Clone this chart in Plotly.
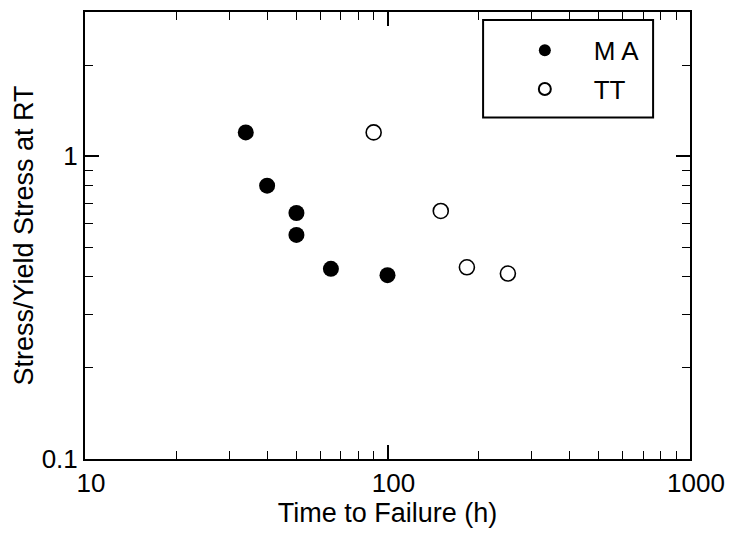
import plotly.graph_objects as go

ma_time = [34, 40, 50, 50, 65, 100]
ma_stress = [1.2, 0.8, 0.65, 0.55, 0.425, 0.405]
tt_time = [90, 150, 183, 250]
tt_stress = [1.2, 0.66, 0.43, 0.41]

x_ticks = [10, 100, 1000]
x_minor = [20, 30, 40, 50, 60, 70, 80, 90, 200, 300, 400, 500, 600, 700, 800, 900]
y_ticks = [0.1, 1]
y_minor = [0.2, 0.3, 0.4, 0.5, 0.6, 0.7, 0.8, 0.9, 2, 3]

FONT = "Liberation Sans, Arial, sans-serif"
NB = "\u00a0"

fig = go.Figure()
fig.add_trace(go.Scatter(
    x=ma_time, y=ma_stress, mode="markers", name=NB * 4 + "M A" + NB,
    legendgroup="a",
    marker=dict(symbol="circle", size=16, color="black", line=dict(width=0)),
))
fig.add_trace(go.Scatter(
    x=tt_time, y=tt_stress, mode="markers", name=NB * 4 + "TT",
    legendgroup="b",
    marker=dict(symbol="circle-open", size=15, color="black", line=dict(width=1.6)),
))

axis_common = dict(
    type="log", showgrid=False, zeroline=False, showline=True, linecolor="black",
    linewidth=2, mirror="allticks", ticks="inside", ticklen=14, tickwidth=1.5,
    tickcolor="black", tickfont=dict(family=FONT, size=26, color="black"),
)

fig.update_xaxes(
    **axis_common, range=[1, 3], tickvals=x_ticks, ticktext=[str(v) for v in x_ticks],
    ticklabelshift=6,
    minor=dict(tickmode="array", tickvals=x_minor, ticks="inside", ticklen=8,
               tickwidth=1.2, tickcolor="black", showgrid=False),
    title=dict(text="Time to Failure (h)", font=dict(family=FONT, size=27, color="black"), standoff=4),
)
fig.update_yaxes(
    **axis_common, range=[-1, 0.4771], tickvals=y_ticks, ticktext=["0.1", "1"],
    minor=dict(tickmode="array", tickvals=y_minor, ticks="inside", ticklen=8,
               tickwidth=1.2, tickcolor="black", showgrid=False),
    title=dict(text="Stress/Yield Stress at RT", font=dict(family=FONT, size=27, color="black"), standoff=0),
)

fig.update_layout(
    width=735, height=535, margin=dict(l=85, r=45, t=10, b=76),
    plot_bgcolor="white", paper_bgcolor="white",
    font=dict(family=FONT, color="black"),
    legend=dict(
        x=0.727, y=0.967, xanchor="left", yanchor="top",
        borderwidth=0, bgcolor="rgba(0,0,0,0)",
        font=dict(family=FONT, size=26, color="black"),
        itemsizing="constant", tracegroupgap=2,
    ),
    shapes=[dict(type="rect", xref="paper", yref="paper",
                 x0=0.658, x1=0.939, y0=0.764, y1=0.982,
                 line=dict(color="black", width=2), fillcolor="rgba(0,0,0,0)", layer="below")],
)

fig.write_html("out.html")
